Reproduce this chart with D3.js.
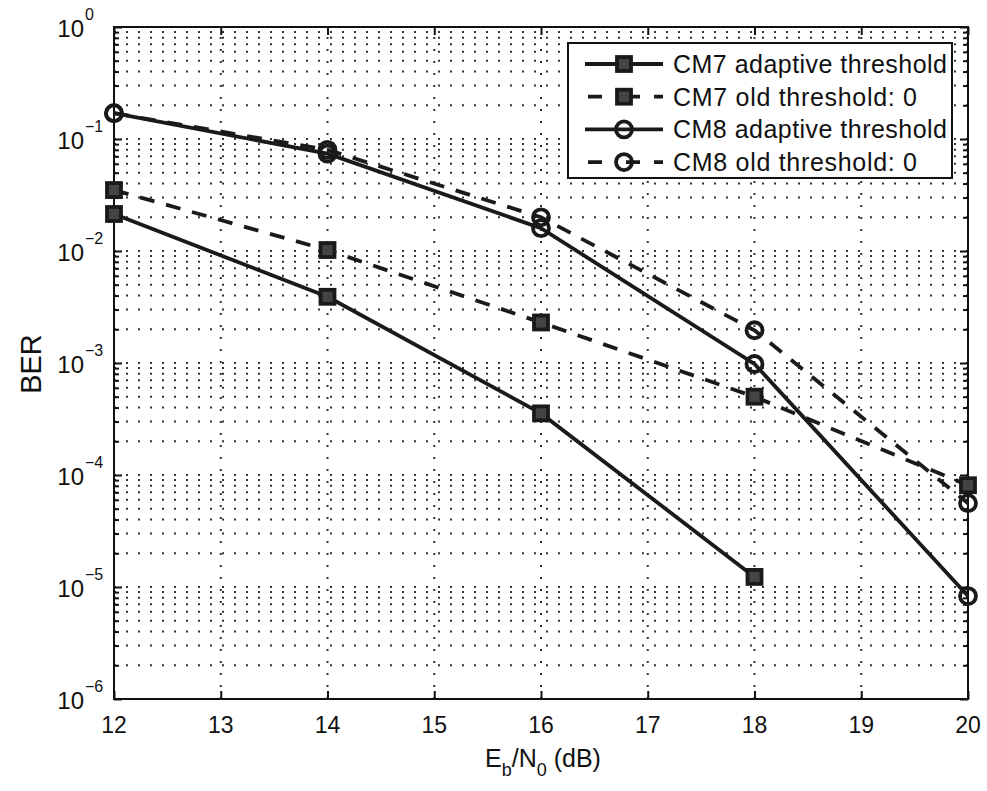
<!DOCTYPE html>
<html>
<head>
<meta charset="utf-8">
<script src="https://cdn.jsdelivr.net/npm/d3@7"></script>
<style>
  body { margin: 0; background: #fff; }
  svg { font-family: "Liberation Sans", Arial, sans-serif; }
</style>
</head>
<body>
<div id="chart"></div>
<script>
// x values (Eb/N0, dB)
const snr = [12, 14, 16, 18, 20];

// BER series
const cm7Adaptive = [0.0214, 0.0039, 3.55e-4, 1.23e-5];
const cm7Old = [0.035, 0.0102, 2.3e-3, 5.0e-4, 8.1e-5];
const cm8Adaptive = [0.17, 0.074, 0.016, 9.8e-4, 8.3e-6];
const cm8Old = [0.17, 0.080, 0.020, 1.96e-3, 5.6e-5];

const seriesNames = ["CM7 adaptive threshold", "CM7 old threshold: 0", "CM8 adaptive threshold", "CM8 old threshold: 0"];
const xTicks = [12, 13, 14, 15, 16, 17, 18, 19, 20];
const yExps = [0, -1, -2, -3, -4, -5, -6];

const width = 987, height = 791;
const margin = { left: 114, right: 19, top: 27, bottom: 92 };

const svg = d3.select("#chart").append("svg")
  .attr("width", width)
  .attr("height", height);

const x = d3.scaleLinear().domain([12, 20]).range([margin.left, width - margin.right]);
const y = d3.scaleLog().domain([1e-6, 1]).range([height - margin.bottom, margin.top]);

const series = [
  { name: seriesNames[0], values: cm7Adaptive, dash: null, marker: "square" },
  { name: seriesNames[1], values: cm7Old, dash: "15,12", marker: "square" },
  { name: seriesNames[2], values: cm8Adaptive, dash: null, marker: "circle" },
  { name: seriesNames[3], values: cm8Old, dash: "15,12", marker: "circle" }
];

// grid
const minorVals = [];
for (let e = -6; e < 0; e++) {
  for (let m = 1; m < 10; m++) minorVals.push(m * Math.pow(10, e));
}
minorVals.push(1);

const grid = svg.append("g").attr("class", "grid");
grid.selectAll("line.hy")
  .data(minorVals.filter(v => v > 1e-6 && v < 1))
  .join("line")
  .attr("x1", x(12)).attr("x2", x(20))
  .attr("y1", d => y(d)).attr("y2", d => y(d))
  .attr("stroke", "#333")
  .attr("stroke-width", 2)
  .attr("stroke-dasharray", "2,10");

grid.selectAll("line.vx")
  .data(xTicks.slice(1, -1))
  .join("line")
  .attr("x1", d => x(d)).attr("x2", d => x(d))
  .attr("y1", y(1e-6)).attr("y2", y(1))
  .attr("stroke", "#333")
  .attr("stroke-width", 2)
  .attr("stroke-dasharray", "2,10");

// axes box
svg.append("rect")
  .attr("x", x(12)).attr("y", y(1))
  .attr("width", x(20) - x(12)).attr("height", y(1e-6) - y(1))
  .attr("fill", "none").attr("stroke", "#111").attr("stroke-width", 2);

const xAxisB = d3.axisBottom(x).tickValues(xTicks).tickSize(-8).tickFormat("");
const xAxisT = d3.axisTop(x).tickValues(xTicks).tickSize(-8).tickFormat("");
const yAxisL = d3.axisLeft(y).tickValues(minorVals).tickSize(-5).tickFormat("");
const yAxisR = d3.axisRight(y).tickValues(minorVals).tickSize(-5).tickFormat("");

function styleAxis(g) {
  g.select(".domain").remove();
  g.selectAll("line").attr("stroke", "#111").attr("stroke-width", 2);
}
svg.append("g").attr("transform", `translate(0,${y(1e-6)})`).call(xAxisB).call(styleAxis);
svg.append("g").attr("transform", `translate(0,${y(1)})`).call(xAxisT).call(styleAxis);
svg.append("g").attr("transform", `translate(${x(12)},0)`).call(yAxisL).call(styleAxis)
  .selectAll(".tick line").attr("x2", d => Math.abs(Math.log10(d) % 1) < 1e-9 ? 8 : 5);
svg.append("g").attr("transform", `translate(${x(20)},0)`).call(yAxisR).call(styleAxis)
  .selectAll(".tick line").attr("x2", d => Math.abs(Math.log10(d) % 1) < 1e-9 ? -8 : -5);

// tick labels
svg.append("g").selectAll("text")
  .data(xTicks)
  .join("text")
  .attr("x", d => x(d))
  .attr("y", y(1e-6) + 34)
  .attr("text-anchor", "middle")
  .attr("font-size", 23)
  .attr("fill", "#111")
  .text(d => d);

const yl = svg.append("g").selectAll("g")
  .data(yExps)
  .join("g")
  .attr("transform", d => `translate(${x(12) - 30},${y(Math.pow(10, d)) + 10})`);
yl.append("text")
  .attr("text-anchor", "end")
  .attr("font-size", 24)
  .attr("fill", "#111")
  .text("10");
yl.append("text")
  .attr("x", 1)
  .attr("y", -17)
  .attr("font-size", 16)
  .attr("fill", "#111")
  .text(d => d === 0 ? "0" : "\u2212" + Math.abs(d));

// axis titles
svg.append("text")
  .attr("transform", `translate(41,${(y(1) + y(1e-6)) / 2 + 1}) rotate(-90)`)
  .attr("text-anchor", "middle")
  .attr("font-size", 29)
  .attr("fill", "#111")
  .text("BER");

const xt = svg.append("text")
  .attr("x", (x(12) + x(20)) / 2 + 2)
  .attr("y", 767)
  .attr("text-anchor", "middle")
  .attr("font-size", 25)
  .attr("fill", "#111");
xt.append("tspan").text("E");
xt.append("tspan").attr("font-size", 18).attr("dy", 9).text("b");
xt.append("tspan").attr("dy", -9).text("/N");
xt.append("tspan").attr("font-size", 18).attr("dy", 9).text("0");
xt.append("tspan").attr("dy", -9).text(" (dB)");

// lines
const line = d3.line()
  .x((d, i) => x(snr[i]))
  .y(d => y(d));

const plot = svg.append("g");
series.forEach(s => {
  plot.append("path")
    .datum(s.values)
    .attr("d", line)
    .attr("fill", "none")
    .attr("stroke", "#1a1a1a")
    .attr("stroke-width", 3.8)
    .attr("stroke-dasharray", s.dash);
});

function drawMarker(g, kind, cx, cy) {
  if (kind === "square") {
    g.append("rect")
      .attr("x", cx - 7).attr("y", cy - 7)
      .attr("width", 14).attr("height", 14)
      .attr("fill", "#444")
      .attr("stroke", "#1a1a1a")
      .attr("stroke-width", 3.8);
  } else {
    g.append("circle")
      .attr("cx", cx).attr("cy", cy).attr("r", 8)
      .attr("fill", "none")
      .attr("stroke", "#1a1a1a")
      .attr("stroke-width", 3.8);
  }
}

series.forEach(s => {
  s.values.forEach((v, i) => drawMarker(plot, s.marker, x(snr[i]), y(v)));
});

// legend
const legend = svg.append("g");
legend.append("rect")
  .attr("x", 568).attr("y", 43)
  .attr("width", 384).attr("height", 135)
  .attr("fill", "#fff")
  .attr("stroke", "#111")
  .attr("stroke-width", 2);

series.forEach((s, i) => {
  const ly = 64 + i * 32.7;
  legend.append("line")
    .attr("x1", 585).attr("x2", 663)
    .attr("y1", ly).attr("y2", ly)
    .attr("stroke", "#1a1a1a")
    .attr("stroke-width", 3.8)
    .attr("stroke-dasharray", s.dash ? "14,24,14" : null)
    .attr("stroke-dashoffset", s.dash ? -3 : null);
  drawMarker(legend, s.marker, 624, ly);
  legend.append("text")
    .attr("x", 673).attr("y", ly + 9)
    .attr("font-size", 25)
    .attr("fill", "#111")
    .attr("textLength", s.name.length > 20 ? 274 : 244)
    .text(s.name);
});
</script>
</body>
</html>
